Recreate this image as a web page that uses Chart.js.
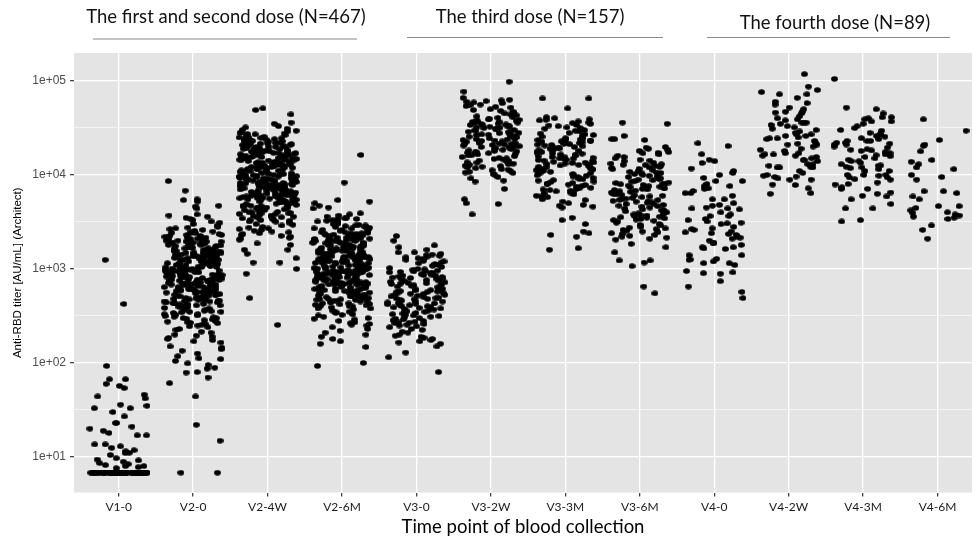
<!DOCTYPE html>
<html>
<head>
<meta charset="utf-8">
<script src="https://cdn.jsdelivr.net/npm/chart.js@4.4.0/dist/chart.umd.min.js"></script>
<style>
  html, body { margin: 0; padding: 0; background: #fff; overflow: hidden; }
</style>
</head>
<body>
<canvas id="titerChart" width="976" height="543"></canvas>
<script>
// time points (x categories)
const categories = ["V1-0", "V2-0", "V2-4W", "V2-6M", "V3-0", "V3-2W", "V3-3M", "V3-6M", "V4-0", "V4-2W", "V4-3M", "V4-6M"];

// anti-RBD titers (AU/mL), one list per time point
const v1_0 = [6.8, 6.8, 6.8, 6.8, 6.8, 6.8, 6.8, 6.8, 6.8, 6.8, 6.8, 6.8, 6.8, 6.8, 6.8, 6.8, 6.8, 6.8, 6.8, 6.8,
  6.8, 6.8, 6.8, 6.8, 6.8, 6.8, 6.8, 6.8, 6.8, 6.8, 6.8, 6.8, 6.8, 6.8, 6.8, 6.8, 6.8, 6.8, 6.8, 6.8,
  6.8, 6.8, 6.8, 6.8, 6.8, 6.8, 6.8, 6.8, 6.8, 6.8, 6.8, 6.8, 6.8, 6.8, 6.8,
  93, 67, 67, 54, 57, 60, 46, 42, 44, 33, 33, 35, 36, 30, 27, 23, 23, 20, 21, 18, 19, 17, 17, 13.6, 13.6,
  13, 12.5, 11.1, 11.8, 11.5, 11, 9.4, 9.7, 8.9, 8.6, 8.2, 8, 8, 8.4, 9.2, 10.5, 7.8, 7.6, 1250, 424];
const v2_0 = [8600, 6800, 5400, 4700, 4600, 5500, 4400, 5200,
  3800, 3500, 2900, 3200, 2700, 3600, 2600, 3100, 3400, 2800, 3000, 2550, 3300, 2650, 3700, 2750,
  1700, 2100, 1900, 2400, 1650, 2200, 1800, 2000, 2300, 1750, 1950, 2150, 1600, 2450, 1850, 2050, 1700, 2250, 1900, 1680, 2350, 2000, 1780, 2100, 1620, 1880, 2180, 1720, 2420, 1960,
  1050, 1400, 1200, 1550, 1100, 1300, 1450, 1000, 1250, 1350, 1150, 1500, 1020, 1380, 1180, 1280, 1480, 1080, 1220, 1420, 1130, 1330, 1560, 1060, 1260, 1400, 1160, 1310, 1040, 1470, 1210, 1360, 1090, 1530, 1240, 1120, 1440, 1010,
  650, 820, 720, 950, 680, 880, 760, 990, 700, 910, 640, 790, 850, 730, 960, 670, 810, 930, 750, 870, 690, 980, 780, 840, 710, 900, 660, 800, 940, 740, 860, 700, 920, 770, 830, 680, 970, 720, 890, 750,
  420, 560, 480, 610, 400, 530, 450, 590, 500, 620, 440, 570, 410, 520, 470, 600, 430, 550, 490, 580, 405, 540, 460, 615, 510, 425, 575, 485, 545, 455, 595, 415, 525, 475, 605, 435,
  260, 340, 300, 380, 270, 320, 290, 360, 250, 330, 310, 390, 280, 350, 265, 370, 295, 325, 255, 345, 285, 385, 305, 275, 355, 315, 395, 268,
  170, 210, 190, 240, 165, 225, 180, 200, 245, 175, 215, 195, 230, 185,
  105, 126, 140, 110, 150, 118, 135, 145, 112,
  99, 87, 79, 89, 61, 80, 70, 44, 22, 14.9, 6.8, 6.8, 95,
  1500, 620, 900, 1800, 480, 1100, 2200, 760, 350, 1300, 560, 2000, 850, 1250, 430, 1650, 700, 980, 2400, 520,
  1150, 800, 1400, 610, 1900, 330, 1050, 740, 1550, 450, 2100, 880, 1200, 660, 1750, 390, 950, 1350, 540, 2300,
  720, 1000, 1600, 470, 820, 1450, 580, 1850, 300, 1100, 690, 1300, 920, 2050, 510, 780, 1700, 420, 1180, 860,
  1500, 640, 2500, 360, 990, 1380, 570, 730, 1950, 460, 1080, 810, 1250, 600, 1650, 410, 940, 1420, 530, 2150,
  770, 1120, 680, 1550, 440, 870, 1300, 590, 1800, 380, 1020, 750, 1480, 490, 2250, 640, 1150, 830, 1350, 560];
const v2_4w = [51000, 49000, 44000, 35000, 36000, 33000, 32000, 29000,
  28500, 27000, 24500, 22000, 26000, 30000, 21000, 23500, 25500, 20500, 28000, 22500, 24000, 27500, 21500, 25000, 23000, 29500, 20800, 26500, 24800, 22800, 31000, 21800, 27200,
  13000, 17000, 15000, 19500, 14000, 18000, 16000, 12800, 19000, 14500, 17500, 13500, 16500, 18500, 15500, 12700, 19800, 14200, 17200, 13200, 16200, 18800, 15200, 13800, 17800, 14800, 19200, 15800, 12900, 16800, 18200, 14400, 13600, 17400, 15600, 19600, 16600, 13400, 18400, 14600,
  8000, 10500, 9000, 12000, 8500, 11000, 9500, 12500, 8200, 10000, 11500, 8800, 9800, 11800, 8300, 10800, 9200, 12200, 7950, 10200, 11200, 8600, 9700, 12400, 8100, 10600, 9300, 11600, 8900, 10400, 7990, 11400, 9100, 12100, 8400, 9900, 10900, 8700, 11900, 9600, 10300, 8050, 11100, 9400, 12300,
  5200, 6500, 7500, 5600, 7000, 6000, 5100, 6800, 7800, 5400, 6200, 7200, 5800, 6600, 5050, 7400, 6100, 5300, 7700, 6900, 5500, 6400, 7100, 5700, 6300, 7600, 5900, 6700, 5250, 7300, 6050, 5450, 7050, 6350, 5650, 7550, 5150, 6850, 5950, 6450, 7350, 5350,
  3200, 4200, 3600, 4800, 3400, 4500, 3800, 4000, 3300, 4600, 3700, 4400, 3500, 4900, 3900, 4100, 3250, 4700, 3650, 4300, 3450, 4950, 3850, 3350, 4250, 3550, 4650, 3750, 4050, 3950, 4450, 3180,
  2100, 2800, 2400, 3000, 2200, 2600, 2900, 2050, 2500, 2700, 2300, 3100, 2150, 2650, 2450, 2950, 2250, 2750, 2350, 2550,
  1870, 1600, 1600, 1450, 1170, 1170, 1000, 890, 490, 254, 1300, 1800,
  9000, 15000, 6200, 21000, 11000, 4500, 17000, 7800, 13000, 5500, 19000, 8600, 24000, 10000, 3600, 14000, 6800, 18000, 12000, 4900,
  16000, 7200, 22000, 9400, 5800, 12500, 20000, 8200, 3900, 15500, 6500, 11500, 17500, 5200, 10500, 23000, 7600, 13500, 4200, 19500,
  8800, 14500, 6000, 21500, 9800, 4700, 16500, 7400, 12800, 5600, 18500, 8400, 25000, 10200, 3300, 14800, 6600, 17800, 11800, 5000,
  15800, 7000, 22500, 9200, 5900, 12200, 20500, 8000, 4000, 15200, 6300, 11200, 17200, 5400, 10800, 23500, 7700, 13800, 4400, 19800,
  8900, 14200, 6100, 21200, 9600, 4600, 16200, 7300, 12600, 5700];
const v2_6m = [16300, 8300, 5000, 4700, 4500, 5200, 5400, 4400,
  2600, 3500, 2900, 3800, 2700, 3200, 3000, 3600, 2550, 3300, 2800, 3900, 3100, 2650, 3400, 2950, 3700, 2750, 3050, 3450, 2850, 3250,
  1650, 2100, 1900, 2400, 1750, 2200, 1800, 2000, 2300, 1700, 1950, 2150, 1620, 2450, 1850, 2050, 1720, 2250, 1880, 1680, 2350, 1980, 1780, 2120, 1640, 1920, 2180, 1740, 2420, 1960, 1820, 2080, 1660, 2280, 1860, 2020, 1760, 2380,
  1050, 1400, 1200, 1550, 1100, 1300, 1450, 1000, 1250, 1350, 1150, 1500, 1020, 1380, 1180, 1280, 1480, 1080, 1220, 1420, 1130, 1330, 1560, 1060, 1260, 1400, 1160, 1310, 1040, 1470, 1210, 1360, 1090, 1530, 1240, 1120, 1440, 1010, 1290, 1190, 1390, 1070, 1340, 1140, 1580,
  650, 820, 720, 950, 680, 880, 760, 990, 700, 910, 640, 790, 850, 730, 960, 670, 810, 930, 750, 870, 690, 980, 780, 840, 710, 900, 660, 800, 940, 740, 860, 705, 920, 770, 830, 685, 970, 725, 890, 755, 815, 645, 945, 765, 875,
  420, 560, 480, 610, 400, 530, 450, 590, 500, 620, 440, 570, 410, 520, 470, 600, 430, 550, 490, 580, 405, 540, 460, 615, 510, 425, 575, 485, 545, 455, 595, 415, 525, 475, 605,
  260, 340, 300, 380, 270, 320, 290, 360, 250, 330, 310, 390, 280, 350, 265, 370, 295, 325, 255, 345,
  210, 180, 160, 148, 100, 93, 200, 190, 170, 220, 230, 240,
  1200, 700, 2200, 900, 1600, 500, 2800, 1000, 1400, 640, 1900, 820, 3200, 1100, 450, 1700, 760, 2400, 1300, 580,
  1500, 880, 2000, 1050, 400, 1800, 720, 2600, 1250, 540, 1350, 940, 2100, 1150, 660, 1650, 800, 3000, 1450, 480,
  1220, 690, 2250, 920, 1580, 520, 2700, 1020, 1380, 620, 1880, 840, 3400, 1120, 430, 1720, 780, 2450, 1320, 600,
  1520, 860, 2050, 1070, 380, 1820, 740, 2550, 1270, 560, 1370, 960, 2150, 1170, 680, 1620, 810, 2900, 1420, 470,
  1240, 710, 2320, 930, 1560, 530, 1980, 1030, 1360, 630];
const v3_0 = [2240, 2000, 1780, 1700, 1500, 1600,
  1050, 1400, 1200, 1100, 1300, 1450, 1000, 1250, 1350, 1150, 1500, 1020, 1380, 1180, 1280, 1080, 1220, 1420, 1130, 1330,
  650, 820, 720, 950, 680, 880, 760, 990, 700, 910, 640, 790, 850, 730, 960, 670, 810, 930, 750, 870, 690, 980, 780, 840, 710, 900, 660, 800, 940, 740, 860, 705, 920, 770, 830,
  420, 560, 480, 610, 400, 530, 450, 590, 500, 620, 440, 570, 410, 520, 470, 600, 430, 550, 490, 580, 405, 540, 460, 615, 510, 425, 575, 485, 545, 455, 595, 415, 525, 475, 605, 435, 565, 495,
  260, 340, 300, 380, 270, 320, 290, 360, 250, 330, 310, 390, 280, 350, 265, 370, 295, 325, 255, 345, 285, 385, 305, 275, 355, 315, 395, 268, 335, 375,
  170, 210, 190, 240, 165, 225, 180, 200, 245, 175, 215, 195, 230, 185,
  129, 115, 80, 160, 150];
const v3_2w = [98000, 77000, 66000, 63000, 60000,
  42000, 55000, 48000, 61000, 45000, 52000, 58000, 41000, 50000, 44000, 56000, 47000, 62000, 43000, 53000, 46000, 59000, 49000, 40500, 54000,
  26000, 33000, 29000, 38000, 27000, 35000, 31000, 39000, 25500, 32000, 36000, 28000, 34000, 30000, 37000, 26500, 33500, 29500, 38500, 27500, 35500, 31500, 25200, 32500, 36500, 28500, 34500, 30500, 37500, 26800, 39500, 29800, 33800, 27800, 36800, 31800, 25800, 34800, 28800, 32800,
  17000, 21000, 19000, 24000, 16500, 22000, 18000, 20000, 23000, 17500, 21500, 19500, 24500, 16200, 22500, 18500, 20500, 23500, 17200, 21200, 19200, 24200, 16800, 22200, 18200, 20200, 23200, 17800, 21800, 19800, 16100, 22800, 18800, 20800, 23800, 17400, 21400, 19400,
  10500, 13000, 11500, 15000, 12000, 14000, 10200, 12500, 14500, 11000, 13500, 15500, 10800, 12200, 14200, 11200, 13200, 15800, 10100, 12800, 14800, 11800, 13800, 10600, 15200, 12400, 11400, 13600,
  8700, 8500, 7100, 5500, 5000, 4900, 3800, 9200, 9500];
const v3_3m = [65000, 65000, 51000,
  26000, 33000, 29000, 38000, 27000, 35000, 31000, 39000, 25500, 32000, 36000, 28000, 34000, 30000, 37000, 26500, 33500, 29500, 38500, 27500, 35500, 31500, 25200, 41000, 40000,
  17000, 21000, 19000, 24000, 16500, 22000, 18000, 20000, 23000, 17500, 21500, 19500, 24500, 16200, 22500, 18500, 20500, 23500, 17200, 21200, 19200, 24200, 16800, 22200, 18200, 20200, 23200, 17800, 21800, 19800, 16100, 22800, 18800, 20800, 23800,
  10500, 13000, 11500, 15000, 12000, 14000, 10200, 12500, 14500, 11000, 13500, 15500, 10800, 12200, 14200, 11200, 13200, 15800, 10100, 12800, 14800, 11800, 13800, 10600, 15200, 12400, 11400, 13600, 10400, 12600, 14400, 11600, 13400, 15400, 10900, 12900, 14900, 11300,
  6500, 8000, 7200, 9500, 6800, 8800, 7600, 9900, 7000, 9100, 6400, 7900, 8500, 7300, 9600, 6700, 8100, 9300, 7500, 8700, 6900, 9800, 7800, 8400, 7100, 9000, 6600, 8200,
  4500, 5200, 4800, 6000, 5500, 4600, 5800, 5000, 6200, 4700, 5400, 5900,
  3000, 2500, 2400, 2300, 2200, 1660, 1600, 3300, 3500];
const v3_6m = [35000, 36000, 26000, 24000, 24000, 23500,
  13000, 17000, 15000, 19500, 14000, 18000, 16000, 12800, 19000, 14500, 17500, 13500, 16500, 18500, 15500, 12700, 19800, 14200, 17200, 13200,
  8000, 10500, 9000, 12000, 8500, 11000, 9500, 12500, 8200, 10000, 11500, 8800, 9800, 11800, 8300, 10800, 9200, 12200, 7950, 10200, 11200, 8600, 9700, 12400, 8100, 10600, 9300, 11600, 8900, 10400,
  5200, 6500, 7500, 5600, 7000, 6000, 5100, 6800, 7800, 5400, 6200, 7200, 5800, 6600, 5050, 7400, 6100, 5300, 7700, 6900, 5500, 6400, 7100, 5700, 6300, 7600, 5900, 6700, 5250, 7300, 6050, 5450,
  3200, 4200, 3600, 4800, 3400, 4500, 3800, 4000, 3300, 4600, 3700, 4400, 3500, 4900, 3900, 4100, 3250, 4700, 3650, 4300, 3450, 4950, 3850, 3350, 4250, 3550, 4650, 3750,
  2100, 2800, 2400, 3000, 2200, 2600, 2900, 2050, 2500, 2700, 2300, 3100, 2150, 2650, 2450, 2950, 2250, 2750, 2350, 2550,
  1700, 1170, 1230, 1230, 650, 550, 1070, 1500, 1850];
const v4_0 = [16600, 14500, 14000, 11700, 10000, 9300, 8600, 7200, 7100, 7600, 13400, 10500, 11000, 8600, 8000, 7600, 6750, 21700, 20300, 6400,
  6400, 5500, 4400, 4700, 4000, 3650, 4800, 4400, 4300, 5500, 4500, 3650, 3200, 3100, 3000, 3050, 3400, 2700, 2800, 2600,
  2350, 2500, 2400, 2200, 2300, 2100, 2150, 1900, 1630, 1400, 1700, 1700, 1400, 1260, 1650, 1870, 1800, 1280, 1250, 1150,
  1100, 1150, 950, 890, 920, 740, 650, 570, 490, 2650, 2450, 3300, 5000, 6000, 3800, 1200, 2000, 900];
const v4_2w = [118000, 80000, 72000, 60000, 56000, 50000, 47000, 45000, 76000, 72000, 87000, 66000, 58000, 46000, 36000, 36000, 36000, 34000, 38000, 47000,
  42000, 40000, 35000, 32000, 29000, 30000, 26000, 24000, 24500, 21500, 27000, 25000, 26000, 24500, 27000, 22000, 21000, 21000, 18000, 17000,
  16600, 17000, 16500, 15000, 15500, 16000, 16000, 12000, 14400, 14400, 12000, 9800, 13000, 12000, 12500, 12200, 13000, 7800, 10000, 9500,
  8900, 9200, 9600, 7200, 7900, 8900, 6300, 6400, 19000, 20000, 23000, 28000, 31000, 11000, 10500, 14000, 18500, 33000, 39000, 52000];
const v4_3m = [105000, 52000, 50000, 41000, 41000, 39000, 37000, 37000, 40000, 35000, 31500, 29500, 28000, 27000, 25500, 24600, 27000, 24000, 23000, 22000,
  23000, 21000, 22000, 23000, 21500, 21000, 18800, 18500, 18200, 18000, 17500, 17000, 16200, 15000, 14500, 14000, 16500, 15500, 14000, 12000,
  11000, 10000, 8900, 12600, 11500, 9400, 10000, 9800, 13000, 12500, 11800, 11000, 9400, 8300, 7900, 7400, 10000, 7100, 6500, 5900,
  7100, 6300, 4900, 4400, 4400, 3200, 3300, 19500, 20000, 26000, 33000, 8000, 6000, 13500, 15800, 12200, 9000, 5500, 30000, 45000];
const v4_6m = [39000, 23500, 29500, 17800, 21000, 20400, 13800, 14400, 13000, 12000, 11500, 10000, 9500, 8900, 6700, 6700, 5900, 5500, 6400, 4650,
  4650, 4450, 4200, 3400, 3950, 3700, 3800, 3500, 4000, 3600, 2900, 2600, 2100];

// y axis: labelled decades and the half-decade minor lines
const yMajorTicks = [10, 100, 1000, 10000, 100000];
const yMinorTicks = [31.62, 316.2, 3162, 31623];

const doseHeaders = ["The first and second dose (N=467)", "The third dose (N=157)", "The fourth dose (N=89)"];

const groups = [v1_0, v2_0, v2_4w, v2_6m, v3_0, v3_2w, v3_3m, v3_6m, v4_0, v4_2w, v4_3m, v4_6m];

// horizontal jitter like geom_jitter (deterministic so the picture is stable)
function jitter(g, i) {
    const s = Math.sin((i + 1) * 12.9898 + (g + 1) * 78.233) * 43758.5453;
    return (s - Math.floor(s) - 0.5) * 0.78;
}

function isDecade(v) {
    const l = Math.log10(v);
    return Math.abs(l - Math.round(l)) < 0.01;
}

// the dots in the reference are slightly wider than tall
const dot = document.createElement("canvas");
dot.width = 7;
dot.height = 6;
(function () {
    const c = dot.getContext("2d");
    c.fillStyle = "#000";
    c.beginPath();
    c.ellipse(3.5, 3, 3.4, 2.7, 0, 0, Math.PI * 2);
    c.fill();
})();

const datasets = groups.map((vals, g) => ({
    label: categories[g],
    data: vals.map((v, i) => ({ x: g + 1 + jitter(g, i), y: v })),
    backgroundColor: "#000",
    borderColor: "#000",
    borderWidth: 0,
    pointStyle: dot,
    pointRadius: 3.3,
}));

// grey ggplot panel
const panelBg = {
    id: "panelBg",
    beforeDraw(chart) {
        const { ctx, chartArea: a } = chart;
        ctx.save();
        ctx.fillStyle = "#E4E4E4";
        ctx.fillRect(a.left, a.top, a.right - a.left, a.bottom - a.top);
        ctx.restore();
    },
};

// dose group headers with the rules under them
const headerText = {
    id: "headerText",
    afterDraw(chart) {
        const ctx = chart.ctx;
        const spots = [
            { x: 226, y: 23, x0: 93, x1: 357, ly: 39 },
            { x: 530, y: 23, x0: 407, x1: 663, ly: 37.5 },
            { x: 835, y: 29, x0: 707, x1: 950, ly: 37.5 },
        ];
        ctx.save();
        ctx.font = "18.5px Lato";
        ctx.fillStyle = "#111";
        ctx.textAlign = "center";
        ctx.textBaseline = "alphabetic";
        doseHeaders.forEach((t, i) => {
            const s = spots[i];
            ctx.fillText(t, s.x, s.y);
            ctx.strokeStyle = "#8a8a8a";
            ctx.lineWidth = 1;
            ctx.beginPath();
            ctx.moveTo(s.x0, s.ly);
            ctx.lineTo(s.x1, s.ly);
            ctx.stroke();
        });
        ctx.restore();
    },
};

const ctxTiter = document.getElementById("titerChart").getContext("2d");
window.titerChart = new Chart(ctxTiter, {
    type: "scatter",
    data: { datasets: datasets },
    options: {
        responsive: false,
        animation: false,
        devicePixelRatio: 1,
        layout: { padding: { top: 53, right: 0, bottom: 0, left: 0 } },
        plugins: { legend: { display: false }, tooltip: { enabled: false } },
        scales: {
            x: {
                type: "linear",
                min: 0.4,
                max: 12.464,
                afterBuildTicks: (scale) => {
                    scale.ticks = categories.map((c, i) => ({ value: i + 1 }));
                },
                afterFit: (scale) => { scale.height = 50.5; },
                ticks: {
                    autoSkip: false,
                    maxRotation: 0,
                    padding: 3,
                    color: "#1a1a1a",
                    font: { family: "Lato", size: 12 },
                    callback: (v) => categories[Math.round(v) - 1],
                },
                grid: { color: "#ffffff", lineWidth: 1.3, tickColor: "#444", tickLength: 4 },
                border: { display: false },
                title: {
                    display: true,
                    text: "Time point of blood collection",
                    color: "#000",
                    font: { family: "Lato", size: 18.5 },
                    padding: { top: 0, bottom: 5 },
                },
            },
            y: {
                type: "logarithmic",
                min: 4.19,
                max: 198000,
                afterBuildTicks: (scale) => {
                    scale.ticks = yMajorTicks.concat(yMinorTicks).sort((a, b) => a - b).map((v) => ({ value: v }));
                },
                afterFit: (scale) => { scale.width = 74; },
                ticks: {
                    padding: 4,
                    color: "#4D4D4D",
                    font: { family: "Liberation Sans", size: 12 },
                    callback: (v) => (isDecade(v) ? "1e+0" + Math.round(Math.log10(v)) : ""),
                },
                grid: {
                    color: "#ffffff",
                    lineWidth: (c) => (c.tick && isDecade(c.tick.value) ? 1.3 : 0.6),
                    tickColor: (c) => (c.tick && isDecade(c.tick.value) ? "#444" : "rgba(0,0,0,0)"),
                    tickLength: 4,
                },
                border: { display: false },
                title: {
                    display: true,
                    text: "Anti-RBD titer [AU/mL] (Architect)",
                    color: "#000",
                    font: { family: "Liberation Sans", size: 11.5 },
                    padding: { top: 11, bottom: 0 },
                },
            },
        },
    },
    plugins: [panelBg, headerText],
});
</script>
</body>
</html>
